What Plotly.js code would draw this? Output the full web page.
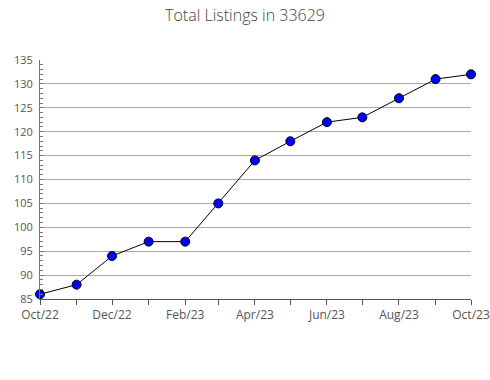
<!DOCTYPE html>
<html><head><meta charset="utf-8">
<script src="https://cdn.plot.ly/plotly-3.0.1.min.js"></script>
<style>html,body{margin:0;padding:0;background:#fff}</style>
</head><body>
<div id="chart" style="width:490px;height:380px"></div>
<script>
const months = ["2022-10-01","2022-11-01","2022-12-01","2023-01-01","2023-02-01","2023-03-01","2023-04-01","2023-05-01","2023-06-01","2023-07-01","2023-08-01","2023-09-01","2023-10-01"];
const listings = [86, 88, 94, 97, 97, 105, 114, 118, 122, 123, 127, 131, 132];
const yTicks = [85, 90, 95, 100, 105, 110, 115, 120, 125, 130, 135];

Plotly.newPlot('chart', [{
  x: months, y: listings, type: 'scatter', mode: 'lines+markers',
  line: {color: '#000', width: 1},
  marker: {color: '#0000ff', size: 9, line: {color: '#000', width: 1}},
  cliponaxis: false, hoverinfo: 'none'
}], {
  width: 490, height: 380,
  margin: {l: 40, r: 19, t: 60, b: 81},
  paper_bgcolor: '#fff', plot_bgcolor: '#fff',
  showlegend: false,
  title: {text: 'Total Listings in 33629', x: 0.5, xanchor: 'center', y: 0.96, yanchor: 'middle',
          font: {family: 'Open Sans', size: 16, color: '#444', weight: 300}},
  xaxis: {
    type: 'date', range: ['2022-10-01', '2023-10-01'],
    tickformat: '%b/%y', dtick: 'M2', tick0: '2022-10-01',
    ticks: 'outside', ticklen: 5, tickcolor: '#555',
    minor: {dtick: 'M1', tick0: '2022-10-01', ticks: 'outside', ticklen: 5, tickcolor: '#555', showgrid: false},
    showgrid: false, showline: true, linecolor: '#555', linewidth: 1,
    tickfont: {family: 'Open Sans', size: 12, color: '#555'}, zeroline: false
  },
  yaxis: {
    range: [85, 135], tickvals: yTicks, ticktext: yTicks.map(String),
    ticks: 'inside', ticklen: 4, tickcolor: '#777', ticklabelstandoff: 4,
    minor: {dtick: 1, tick0: 85, ticks: 'inside', ticklen: 3, tickcolor: '#777', showgrid: false},
    showgrid: true, gridcolor: '#aaa', gridwidth: 1,
    showline: true, linecolor: '#777', linewidth: 1, zeroline: false,
    tickfont: {family: 'Open Sans', size: 11, color: '#555'}
  }
}, {staticPlot: true});
</script>
</body></html>
